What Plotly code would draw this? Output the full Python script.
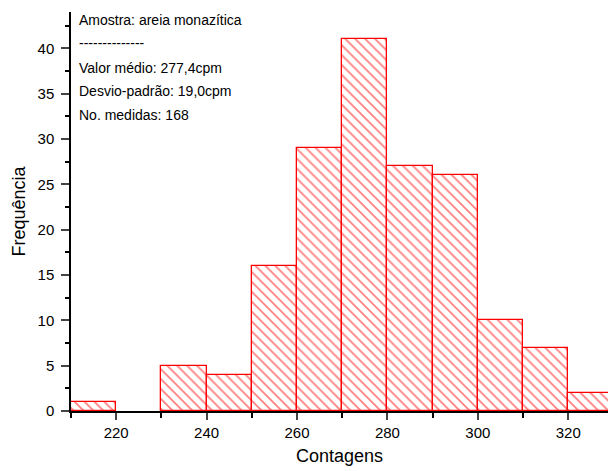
import plotly.graph_objects as go

bin_left = [210, 220, 230, 240, 250, 260, 270, 280, 290, 300, 310, 320]
counts = [1, 0, 5, 4, 16, 29, 41, 27, 26, 10, 7, 2]
bin_width = 10
x_tick_vals = [220, 240, 260, 280, 300, 320]
x_minor_vals = [210, 230, 250, 270, 290, 310]
y_tick_vals = [0, 5, 10, 15, 20, 25, 30, 35, 40]
info_lines = [
    "Amostra: areia monazítica",
    "--------------",
    "Valor médio: 277,4cpm",
    "Desvio-padrão: 19,0cpm",
    "No. medidas: 168",
]

xs = [b + bin_width / 2 for b, c in zip(bin_left, counts) if c > 0]
ys_bar = [c for c in counts if c > 0]

fig = go.Figure()
fig.add_trace(go.Bar(
    x=xs, y=ys_bar, width=bin_width,
    marker=dict(
        color="white",
        line=dict(color="red", width=1.3),
        pattern=dict(shape="\\", fgcolor="red", bgcolor="white", size=7, solidity=0.25),
    ),
    showlegend=False,
))

FONT = "Liberation Sans"
L, T, B, R = 71, 12, 60, 0
PH = 471 - T - B
PW = 608 - L - R
ys = [20, 43, 68, 91, 115]
for txt, yp in zip(info_lines, ys):
    fig.add_annotation(
        text=txt, xref="paper", yref="paper",
        x=(79 - L - 2) / PW, y=1 - (yp - T) / PH,
        xanchor="left", yanchor="middle", showarrow=False,
        font=dict(family=FONT, size=14, color="black"),
    )

fig.update_layout(
    width=608, height=471,
    margin=dict(l=L, r=R, t=T, b=B, autoexpand=False),
    plot_bgcolor="white", paper_bgcolor="white",
    font=dict(family=FONT, size=15, color="black"),
    bargap=0,
)
fig.update_xaxes(
    range=[210, 328.8], tickvals=x_tick_vals, ticks="outside", ticklen=7,
    tickwidth=1.5, showline=True, linecolor="black", linewidth=1.5,
    showgrid=False, zeroline=False, automargin=False,
    minor=dict(tickvals=x_minor_vals, ticks="outside", ticklen=5, tickwidth=1.5, tickcolor="black"),
    title=dict(text="Contagens", font=dict(size=18), standoff=10),
    tickfont=dict(size=15),
)
fig.update_yaxes(
    range=[0, 44], tickvals=y_tick_vals, ticks="outside", ticklen=8,
    tickwidth=1.5, showline=True, linecolor="black", linewidth=1.5,
    showgrid=False, zeroline=False, automargin=False,
    minor=dict(dtick=2.5, ticks="outside", ticklen=4, tickwidth=1.5, tickcolor="black"),
    title=dict(text="Frequência", font=dict(size=18), standoff=7),
    tickfont=dict(size=15), ticklabelstandoff=4,
)

fig.write_html(
    "out.html",
    config={"displayModeBar": False},
    post_script="document.body.style.margin='0px';document.body.style.overflow='hidden';",
)
